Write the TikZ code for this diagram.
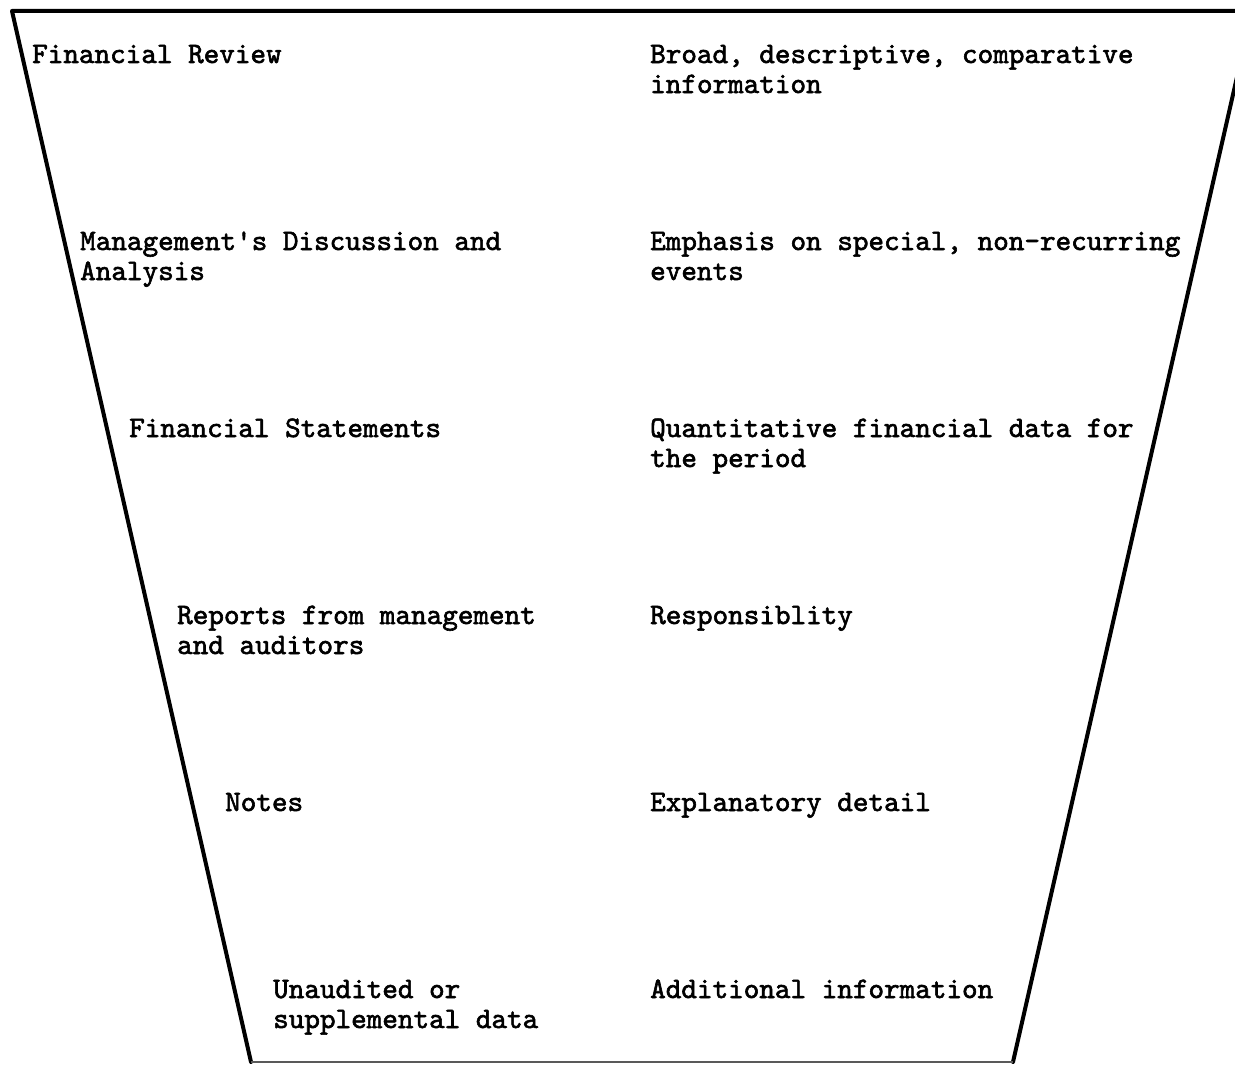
\documentclass[tikz,border=0pt]{standalone}
\usepackage{fontspec}
\setmonofont[Extension=.otf,FakeBold=2]{lmmono10-regular}
\begin{document}
\begin{tikzpicture}[x=1pt,y=-1pt,
  lbl/.style={anchor=base west,inner sep=0pt,font=\ttfamily\fontsize{29.7}{30}\selectfont,align=left},
  edge/.style={line width=4pt,line cap=round,line join=round}]
\useasboundingbox (0,0) rectangle (1235,1065);
\clip (0,0) rectangle (1235,1065);
\fill[white] (0,0) rectangle (1235,1065);
% funnel outline
\coordinate (tl) at (12,11);
\coordinate (tr) at (1252,11);
\coordinate (br) at (1013,1062);
\coordinate (bl) at (251,1062);
\draw[edge] (bl) -- (tl) -- (tr) -- (br);
\draw[line width=2pt,black!65] (bl) -- (br);
% left column (two-line nodes anchor at the baseline of their last line)
\node[lbl] (l1) at (32,63) {Financial Review};
\node[lbl] (l2) at (80,280) {Management's Discussion and\\Analysis};
\node[lbl] (l3) at (129,437) {Financial Statements};
\node[lbl] (l4) at (177,654) {Reports from management\\and auditors};
\node[lbl] (l5) at (225,811) {Notes};
\node[lbl] (l6) at (273,1028) {Unaudited or\\supplemental data};
% right column
\node[lbl] (r1) at (650,93) {Broad, descriptive, comparative\\information};
\node[lbl] (r2) at (650,280) {Emphasis on special, non-recurring\\events};
\node[lbl] (r3) at (650,467) {Quantitative financial data for\\the period};
\node[lbl] (r4) at (650,624) {Responsiblity};
\node[lbl] (r5) at (650,811) {Explanatory detail};
\node[lbl] (r6) at (650,998) {Additional information};
\end{tikzpicture}
\end{document}
